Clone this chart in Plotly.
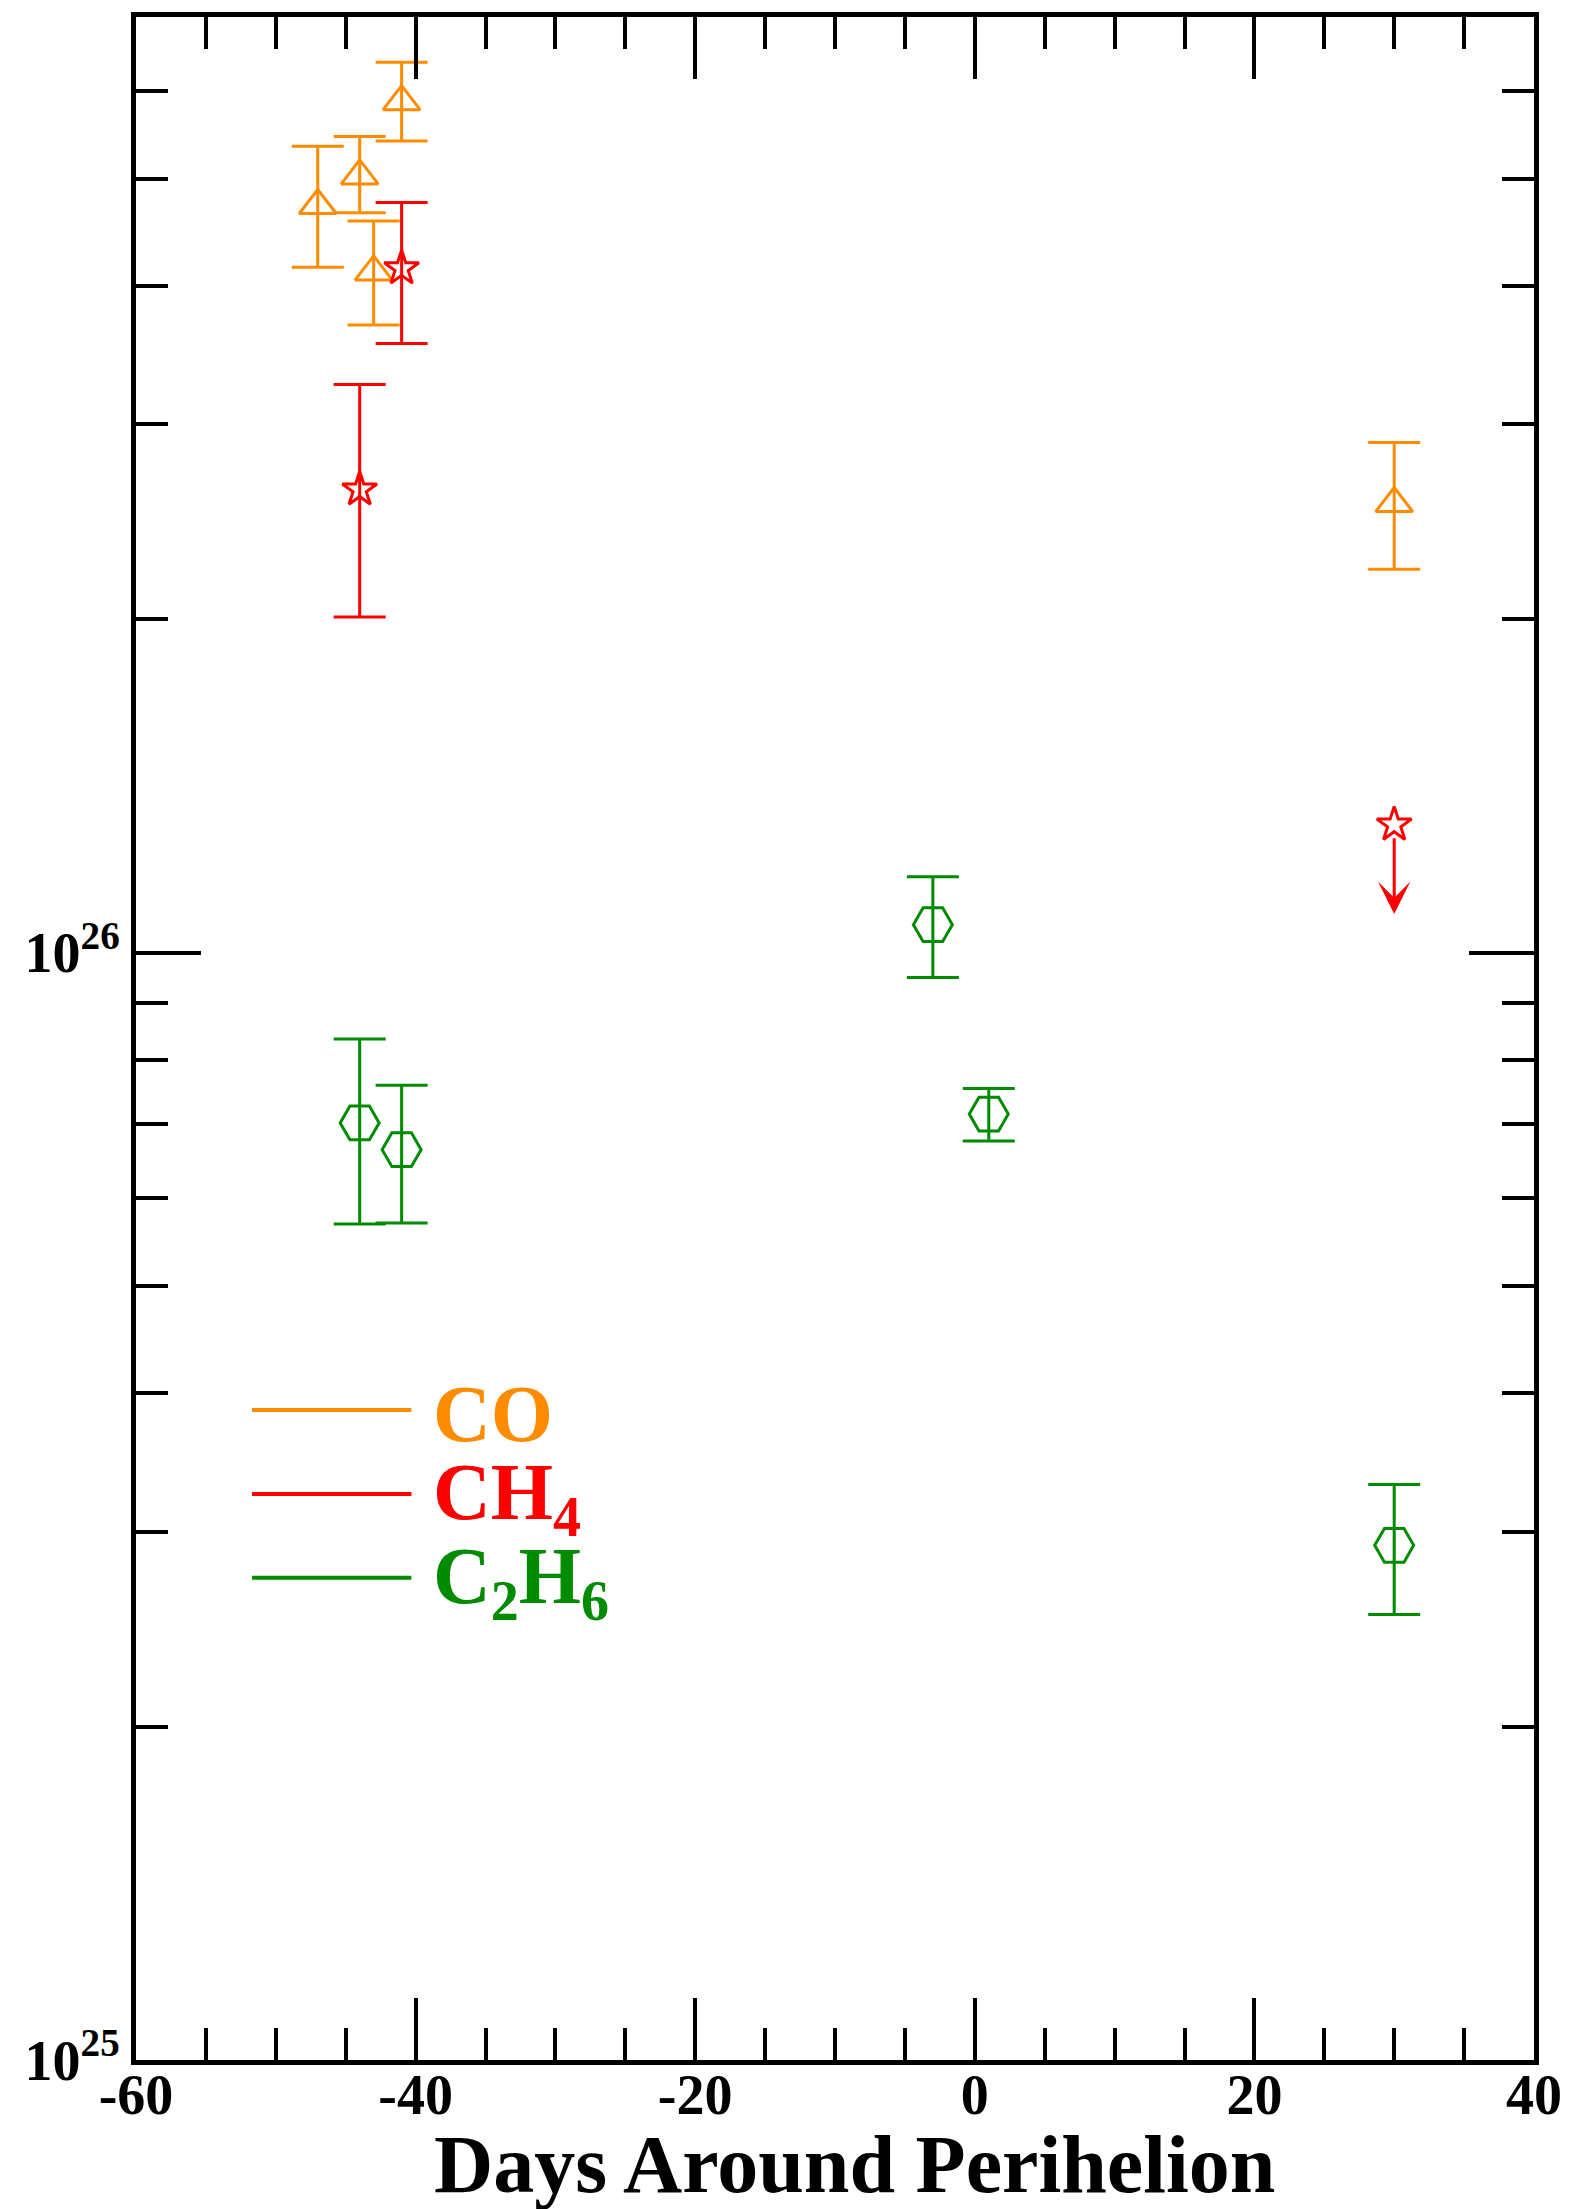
import numpy as np
import plotly.graph_objects as go

# ---------------- data ----------------
days_co = [-47, -44, -43, -41, 30]
co_val = [4.73e26, 5.03e26, 4.12e26, 5.87e26, 2.545e26]
co_hi = [5.35e26, 5.46e26, 4.58e26, 6.37e26, 2.89e26]
co_lo = [4.16e26, 4.66e26, 3.69e26, 5.41e26, 2.22e26]

days_ch4 = [-44, -41]
ch4_val = [2.62e26, 4.15e26]
ch4_hi = [3.26e26, 4.76e26]
ch4_lo = [2.01e26, 3.55e26]

days_ch4_limit = [30]
ch4_limit_val = [1.305e26]
ch4_limit_tip = [1.084e26]

days_c2h6 = [-44, -41, -3, 1, 30]
c2h6_val = [7.02e25, 6.64e25, 1.060e26, 7.15e25, 2.916e25]
c2h6_hi = [8.36e25, 7.59e25, 1.171e26, 7.54e25, 3.31e25]
c2h6_lo = [5.69e25, 5.70e25, 9.50e25, 6.76e25, 2.525e25]

x_major = [-60, -40, -20, 0, 20, 40]
x_major_text = ["-60", "-40", "-20", "0", "20", "40"]
x_minor = [-55, -50, -45, -35, -30, -25, -15, -10, -5, 5, 10, 15, 25, 30, 35]
y_major = [1e25, 1e26]
y_major_text = ["10<sup>25</sup>", "10<sup>26</sup>"]
y_minor = [2e25, 3e25, 4e25, 5e25, 6e25, 7e25, 8e25, 9e25, 2e26, 3e26, 4e26, 5e26, 6e26]

legend_names = ["<b>CO</b>", "<b>CH<sub>4</sub></b>", "<b>C<sub>2</sub>H<sub>6</sub></b>"]

ORANGE = "#FF8C00"
RED = "#FF0000"
GREEN = "#008B00"
FONT = "Liberation Serif"

fig = go.Figure()


def add_series(days, vals, hi, lo, color, symbol, size):
    fig.add_trace(go.Scatter(
        x=days, y=vals, mode="markers",
        marker=dict(symbol=symbol, size=size, color=color,
                    line=dict(color=color, width=3)),
        error_y=dict(type="data", symmetric=False,
                     array=[h - v for h, v in zip(hi, vals)],
                     arrayminus=[v - l for v, l in zip(vals, lo)],
                     color=color, thickness=3, width=26),
        showlegend=False, hoverinfo="x+y"))


add_series(days_co, co_val, co_hi, co_lo, ORANGE, "triangle-up-open", 32)
add_series(days_ch4, ch4_val, ch4_hi, ch4_lo, RED, "star-open", 26)
add_series(days_c2h6, c2h6_val, c2h6_hi, c2h6_lo, GREEN, "hexagon2-open", 39)

fig.add_trace(go.Scatter(
    x=days_ch4_limit, y=ch4_limit_val, mode="markers",
    marker=dict(symbol="star-open", size=26, color=RED, line=dict(color=RED, width=3)),
    showlegend=False))

for d, v0, v1 in zip(days_ch4_limit, ch4_limit_val, ch4_limit_tip):
    fig.add_annotation(x=d, y=np.log10(v1), ax=d, ay=np.log10(v0),
                       xref="x", yref="y", axref="x", ayref="y",
                       text="", showarrow=True, arrowhead=3, arrowsize=1.8,
                       arrowwidth=3, arrowcolor=RED, startstandoff=12)

# legend (lines + labels)
legend_colors = [ORANGE, RED, GREEN]
legend_y = [0.3182, 0.2771, 0.2361]
for name, col, ly in zip(legend_names, legend_colors, legend_y):
    fig.add_shape(type="line", xref="paper", yref="paper",
                  x0=0.083, x1=0.197, y0=ly, y1=ly,
                  line=dict(color=col, width=4))
    fig.add_annotation(xref="paper", yref="paper", x=0.211, y=ly - 0.002,
                       xanchor="left", yanchor="middle", showarrow=False,
                       text=name, font=dict(family=FONT, size=80, color=col))

# x-axis title
fig.add_annotation(xref="paper", yref="paper", x=0.514, y=-0.051,
                   xanchor="center", yanchor="middle", showarrow=False,
                   text="<b>Days Around Perihelion</b>",
                   font=dict(family=FONT, size=82, color="black"))

axis_common = dict(showline=True, linewidth=5, linecolor="black", mirror="allticks",
                   ticks="inside", tickcolor="black", tickwidth=4,
                   showgrid=False, zeroline=False)

fig.update_layout(
    width=1580, height=2209,
    margin=dict(l=136, r=46, t=14, b=149),
    plot_bgcolor="white", paper_bgcolor="white",
    xaxis=dict(range=[-60, 40], tickmode="array", tickvals=x_major, ticktext=x_major_text,
               ticklen=62, ticklabelstandoff=-18,
               tickfont=dict(family=FONT, size=56, color="black", weight="bold"),
               minor=dict(tickmode="array", tickvals=x_minor, ticks="inside", ticklen=32,
                          tickwidth=4, tickcolor="black", showgrid=False),
               **axis_common),
    yaxis=dict(type="log", range=[25, np.log10(7e26)], tickmode="array",
               tickvals=y_major, ticktext=y_major_text, ticklen=65,
               tickfont=dict(family=FONT, size=56, color="black", weight="bold"),
               minor=dict(tickmode="array", tickvals=y_minor, ticks="inside", ticklen=32,
                          tickwidth=4, tickcolor="black", showgrid=False),
               **axis_common),
    showlegend=False,
)

fig.write_html("out.html", config={"displayModeBar": False},
               post_script="document.body.style.margin='0';")
